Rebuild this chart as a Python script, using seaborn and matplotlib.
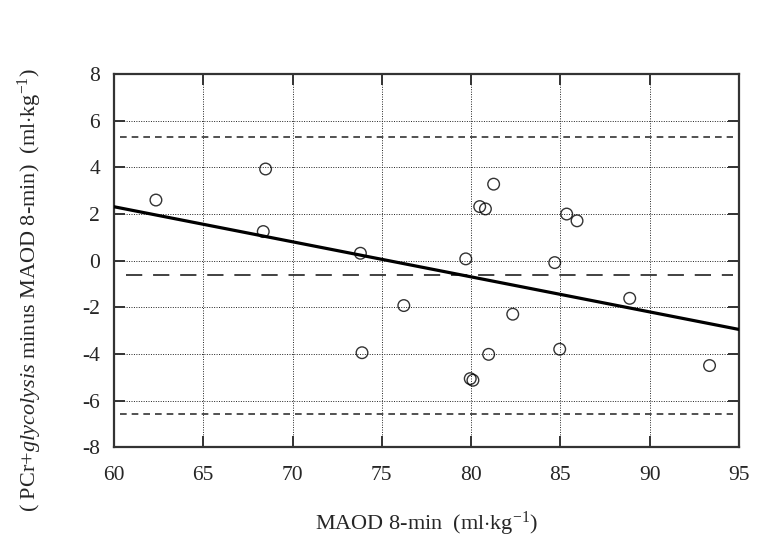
import matplotlib
matplotlib.use("Agg")
import matplotlib.pyplot as plt
import numpy as np
import pandas as pd
import seaborn as sns

# ── Data ─────────────────────────────────────────────────────────────────────
maod = [62.35, 68.49, 68.36, 73.80, 73.89, 76.23, 79.70, 80.48, 80.80, 81.26,
        79.95, 80.10, 80.98, 82.33, 84.68, 85.35, 85.93, 84.96, 88.88, 93.35]
diff = [2.60, 3.93, 1.25, 0.32, -3.94, -1.92, 0.08, 2.32, 2.22, 3.28,
        -5.05, -5.12, -4.01, -2.29, -0.08, 2.00, 1.71, -3.79, -1.61, -4.49]
x_ticks = [60, 65, 70, 75, 80, 85, 90, 95]
y_ticks = [-8, -6, -4, -2, 0, 2, 4, 6, 8]

df = pd.DataFrame({"maod": maod, "diff": diff})
mean_diff = df["diff"].mean()
sd_diff = df["diff"].std()
loa_hi = mean_diff + 1.96 * sd_diff
loa_lo = mean_diff - 1.96 * sd_diff

# ── Style ────────────────────────────────────────────────────────────────────
sns.set_style("ticks")
plt.rcParams["font.family"] = ["Liberation Serif", "DejaVu Serif"]
plt.rcParams["mathtext.fontset"] = "custom"
plt.rcParams["mathtext.rm"] = "Liberation Serif"
plt.rcParams["mathtext.it"] = "Liberation Serif:italic"
plt.rcParams["axes.unicode_minus"] = False

fig = plt.figure(figsize=(7.69, 5.48), dpi=100)
ax = fig.add_axes([0.1482, 0.1834, 0.8128, 0.6816])

ax.set_xlim(60, 95)
ax.set_ylim(-8, 8)

# grid
ax.set_xticks(x_ticks)
ax.set_yticks(y_ticks)
ax.grid(True, color="#222222", linestyle=(0, (1, 1.5)), linewidth=0.7)
ax.set_axisbelow(True)

# limits of agreement + mean difference
ax.axhline(loa_hi, xmin=0.01, xmax=0.99, color="#333333",
           linestyle=(0, (4, 3)), linewidth=1.2)
ax.axhline(loa_lo, xmin=0.01, xmax=0.99, color="#333333",
           linestyle=(0, (4, 3)), linewidth=1.2)
ax.axhline(mean_diff, xmin=0.02, xmax=0.99, color="#333333",
           linestyle=(0, (9, 6)), linewidth=1.3)

# points + regression line
sns.regplot(data=df, x="maod", y="diff", ax=ax, ci=None, truncate=False,
            scatter_kws=dict(marker="o", s=70, facecolors="none",
                             edgecolors="black", linewidths=1.0, zorder=4),
            line_kws=dict(color="black", linewidth=2.3, zorder=5))
ax.set_xlim(60, 95)
ax.set_ylim(-8, 8)

for s in ax.spines.values():
    s.set_visible(True)
    s.set_color("#333333")
    s.set_linewidth(1.6)

ax.tick_params(direction="in", length=8, width=1.4, color="#333333",
               top=True, right=True, labelsize=15.5)
ax.tick_params(axis="x", pad=13)
ax.tick_params(axis="y", pad=10)

ax.set_xlabel(r"MAOD 8-min  (ml$\cdot$kg$^{\mathregular{-1}}$)",
              fontsize=16, labelpad=18)
ax.set_ylabel(r"( PCr+$\it{glycolysis}$ minus MAOD 8-min)  (ml$\cdot$kg$^{\mathregular{-1}}$)",
              fontsize=16)
ax.yaxis.set_label_coords(-0.112, 0.42)

fig.savefig("out.png", dpi=100)
plt.close(fig)
